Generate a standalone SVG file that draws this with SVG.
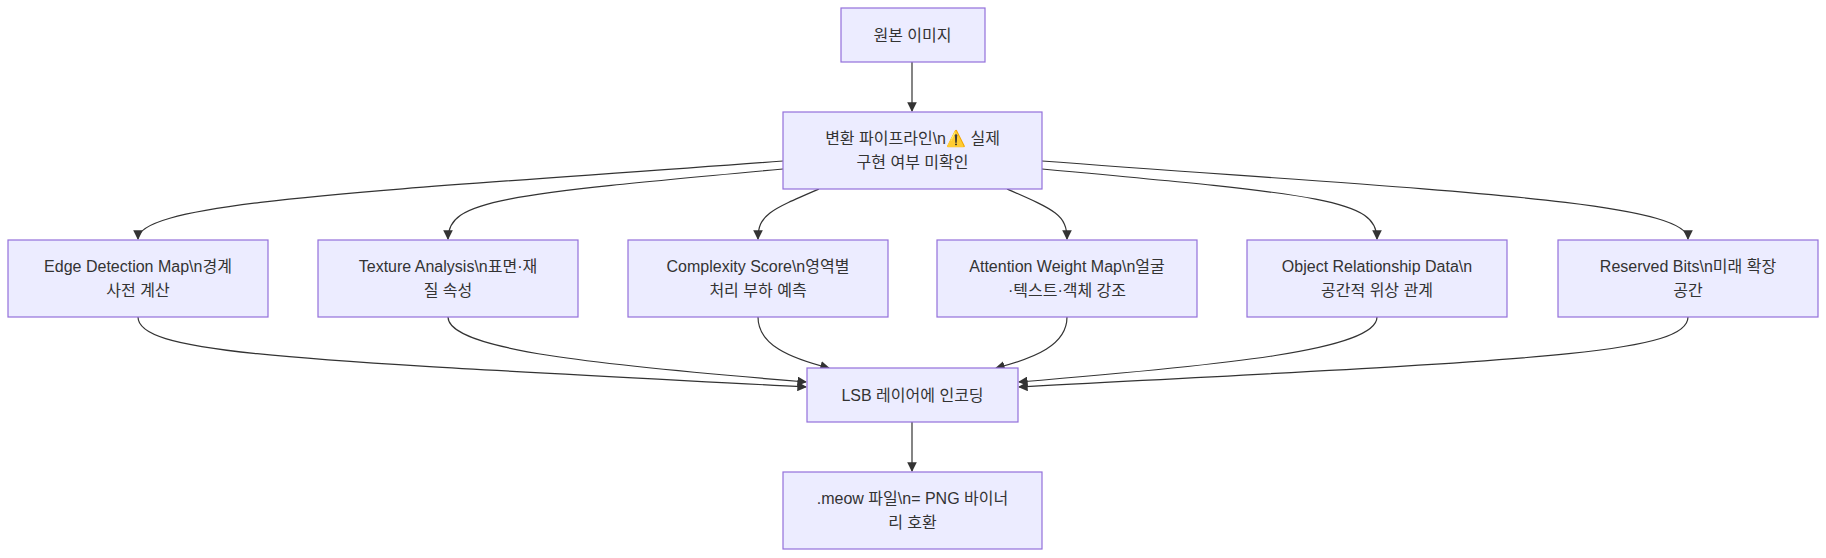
<svg xmlns="http://www.w3.org/2000/svg" width="1826" height="558" viewBox="0 0 1826 558">
<style>
.n rect{fill:#ECECFF;stroke:#9370DB;stroke-width:1.2}
.n text{font-family:"Liberation Sans","Noto Sans CJK KR",sans-serif;font-size:16px;fill:#333;text-anchor:middle}
.e path{fill:none;stroke:#333;stroke-width:1.2;marker-end:url(#a)}
</style>
<defs><marker id="a" viewBox="0 0 10 10" refX="9" refY="5" markerWidth="8" markerHeight="8" orient="auto"><path d="M0,0L10,5L0,10z" fill="#333"/></marker></defs>
<rect width="1826" height="558" fill="#fff"/>
<g class="e">
<path d="M912,62V111"/>
<path d="M783,161C400,190 138,200 138,239"/>
<path d="M783,169C500,195 448,200 448,239"/>
<path d="M819,189C770,210 758,215 758,239"/>
<path d="M1007,189C1055,210 1067,215 1067,239"/>
<path d="M1042,169C1325,195 1377,200 1377,239"/>
<path d="M1042,161C1425,190 1688,200 1688,239"/>
<path d="M138,317C138,355 300,360 806,387"/>
<path d="M448,317C448,350 600,365 806,382"/>
<path d="M758,317C758,345 790,358 829,368"/>
<path d="M1067,317C1067,345 1035,358 996,368"/>
<path d="M1377,317C1377,350 1225,365 1019,382"/>
<path d="M1688,317C1688,355 1525,360 1019,387"/>
<path d="M912,422V471"/>
</g>
<g id="n0" class="n"><rect x="841" y="8" width="144" height="54"/><text x="912.5" y="41">원본 이미지</text></g>
<g id="n1" class="n"><rect x="783" y="112" width="259" height="77"/><text x="912.5" y="144">변환 파이프라인\n⚠️ 실제</text><text x="912.5" y="168">구현 여부 미확인</text></g>
<g id="n2" class="n"><rect x="8" y="240" width="260" height="77"/><text x="138" y="272">Edge Detection Map\n경계</text><text x="138" y="296">사전 계산</text></g>
<g id="n3" class="n"><rect x="318" y="240" width="260" height="77"/><text x="448" y="272">Texture Analysis\n표면·재</text><text x="448" y="296">질 속성</text></g>
<g id="n4" class="n"><rect x="628" y="240" width="260" height="77"/><text x="758" y="272">Complexity Score\n영역별</text><text x="758" y="296">처리 부하 예측</text></g>
<g id="n5" class="n"><rect x="937" y="240" width="260" height="77"/><text x="1067" y="272">Attention Weight Map\n얼굴</text><text x="1067" y="296">·텍스트·객체 강조</text></g>
<g id="n6" class="n"><rect x="1247" y="240" width="260" height="77"/><text x="1377" y="272">Object Relationship Data\n</text><text x="1377" y="296">공간적 위상 관계</text></g>
<g id="n7" class="n"><rect x="1558" y="240" width="260" height="77"/><text x="1688" y="272">Reserved Bits\n미래 확장</text><text x="1688" y="296">공간</text></g>
<g id="n8" class="n"><rect x="807" y="368" width="211" height="54"/><text x="912.5" y="401">LSB 레이어에 인코딩</text></g>
<g id="n9" class="n"><rect x="783" y="472" width="259" height="77"/><text x="912.5" y="504">.meow 파일\n= PNG 바이너</text><text x="912.5" y="528">리 호환</text></g>
</svg>
